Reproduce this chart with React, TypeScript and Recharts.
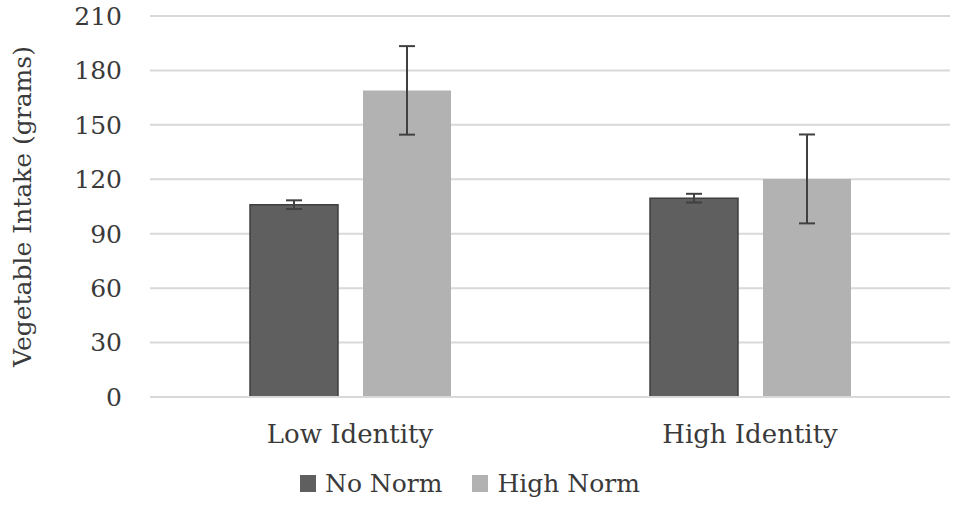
import React from 'react';
import { BarChart, Bar, XAxis, YAxis, CartesianGrid, Legend, ErrorBar } from 'recharts';

const categories = ['Low Identity', 'High Identity'];
const noNorm = [106, 109.6];
const noNormErr = [2.4, 2.4];
const highNorm = [169, 120.2];
const highNormErr = [24.4, 24.5];
const yTicks = [0, 30, 60, 90, 120, 150, 180, 210];

const DARK = '#5f5f5f';
const LIGHT = '#b2b2b2';
const TEXT = '#3a3a3a';
const FONT = '"DejaVu Serif", serif';

const data = categories.map((name, i) => ({
  name,
  noNorm: noNorm[i],
  noNormErr: noNormErr[i],
  highNorm: highNorm[i],
  highNormErr: highNormErr[i],
}));

const renderLegend = () => (
  <div
    style={{
      display: 'flex',
      alignItems: 'center',
      height: 45,
      paddingLeft: 300,
      fontFamily: FONT,
      fontSize: 25,
      color: TEXT,
    }}
  >
    <span style={{ width: 16, height: 17, background: DARK, marginRight: 9 }} />
    <span style={{ marginRight: 30 }}>No Norm</span>
    <span style={{ width: 16, height: 17, background: LIGHT, marginRight: 9 }} />
    <span>High Norm</span>
  </div>
);

const renderYLabel = (props: any) => {
  const vb = props.viewBox || {};
  const cy = (vb.y || 0) + (vb.height || 0) / 2;
  const cx = 22;
  return (
    <text
      x={cx}
      y={cy}
      transform={`rotate(-90 ${cx} ${cy})`}
      textAnchor="middle"
      dominantBaseline="central"
      fill={TEXT}
      style={{ fontSize: 25, fontFamily: FONT }}
    >
      Vegetable Intake (grams)
    </text>
  );
};

const xTickStyle = { fill: TEXT, fontSize: 26, style: { fontFamily: FONT } };
const yTickStyle = { fill: TEXT, fontSize: 25, style: { fontFamily: FONT } };

const App: React.FC = () => {
  return (
    <div style={{ position: 'absolute', left: 0, top: 0, background: '#fff', fontFamily: FONT }}>
      <BarChart
        width={955}
        height={506}
        data={data}
        margin={{ top: 16, right: 5, left: 0, bottom: 0 }}
        barCategoryGap={100}
        barGap={25}
      >
        <CartesianGrid vertical={false} stroke="#d9d9d9" strokeWidth={2} />
        <XAxis
          dataKey="name"
          height={64}
          tickLine={false}
          axisLine={{ stroke: '#d9d9d9', strokeWidth: 2 }}
          tickMargin={22}
          tick={xTickStyle}
        />
        <YAxis
          width={150}
          domain={[0, 210]}
          ticks={yTicks}
          interval={0}
          tickLine={false}
          axisLine={false}
          tickMargin={22}
          tick={yTickStyle}
          label={{ content: renderYLabel }}
        />
        <Legend verticalAlign="bottom" height={45} content={renderLegend} wrapperStyle={{ left: 0, width: 955 }} />
        <Bar dataKey="noNorm" name="No Norm" fill={DARK} stroke="#3f3f3f" strokeWidth={1.5} isAnimationActive={false}>
          <ErrorBar dataKey="noNormErr" width={8} stroke="#404040" strokeWidth={2} direction="y" />
        </Bar>
        <Bar dataKey="highNorm" name="High Norm" fill={LIGHT} isAnimationActive={false}>
          <ErrorBar dataKey="highNormErr" width={8} stroke="#404040" strokeWidth={2} direction="y" />
        </Bar>
      </BarChart>
    </div>
  );
};

export default App;
